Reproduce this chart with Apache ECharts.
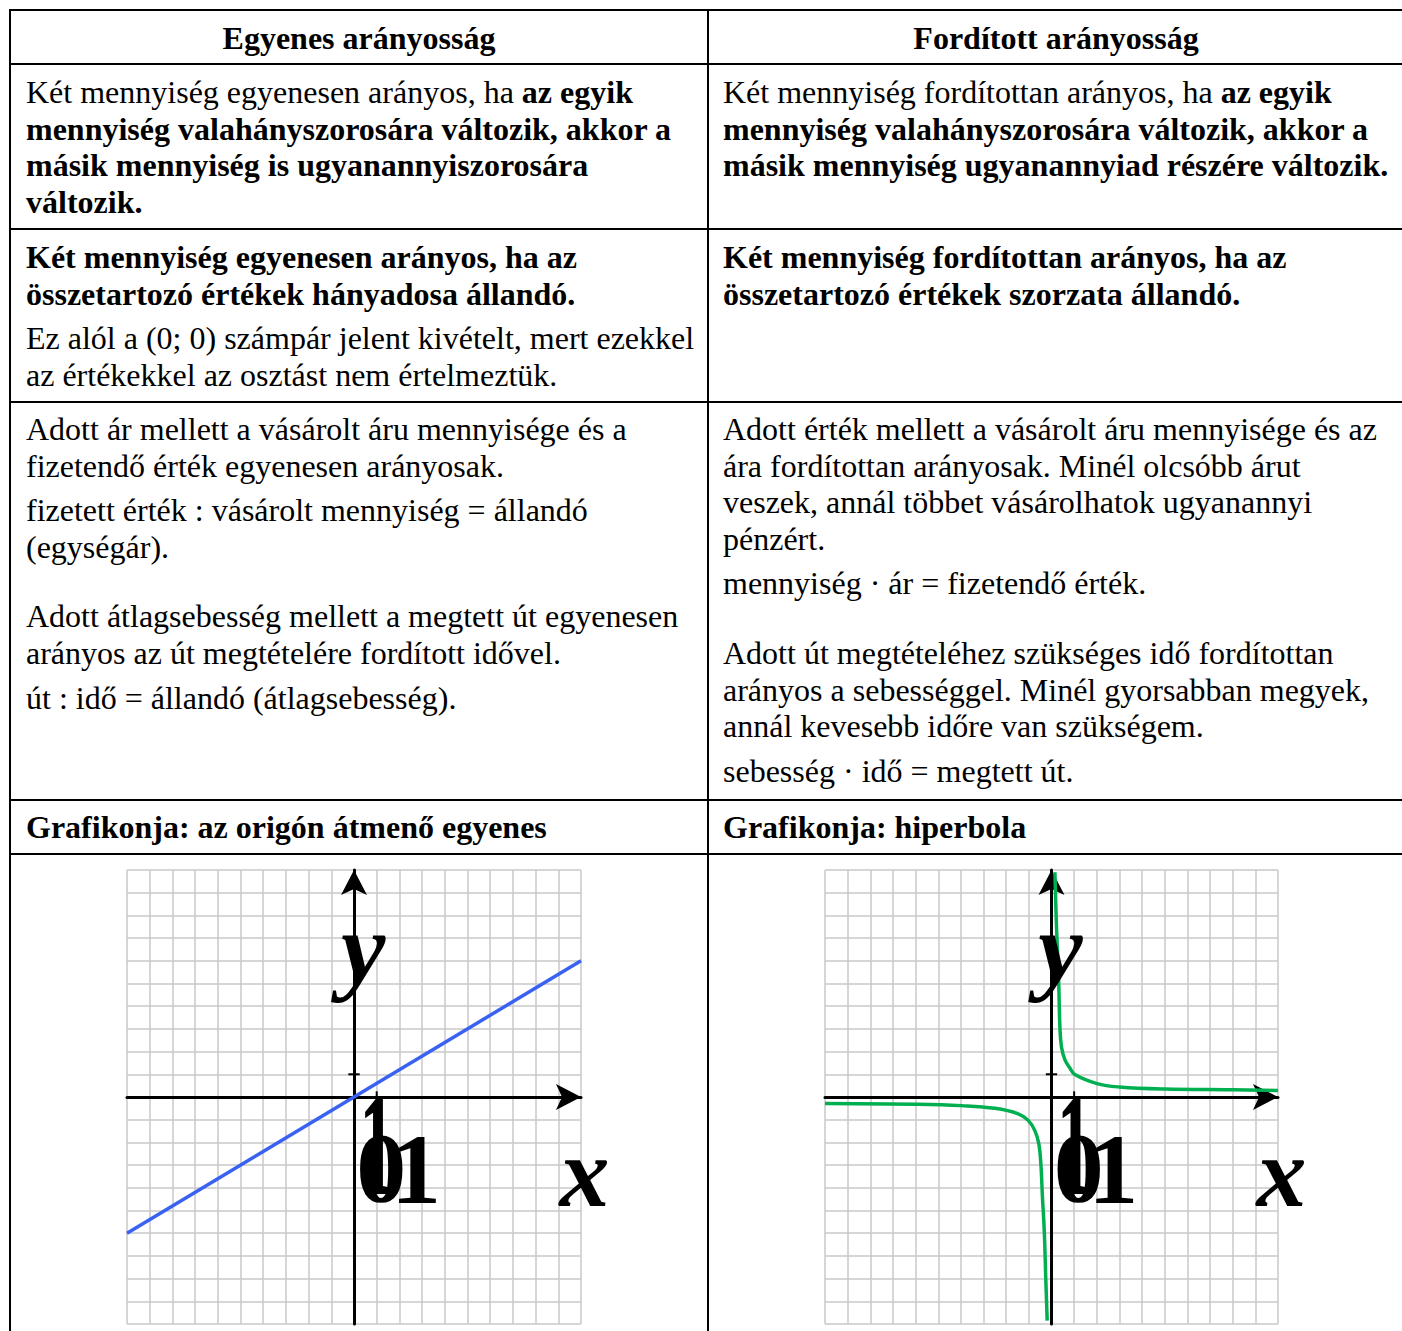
<!DOCTYPE html>
<html>
<head>
<meta charset="utf-8">
<script src="https://cdn.jsdelivr.net/npm/echarts@6/dist/echarts.min.js"></script>
<style>
  html, body { margin: 0; padding: 0; background: #fff; }
  body { width: 1402px; height: 1331px; position: relative; overflow: hidden;
         font-family: "Liberation Serif", "Times New Roman", serif; font-size: 32px; color: #000; }
  .hl { position: absolute; left: 9px; width: 1400px; height: 2px; background: #000; }
  .vl { position: absolute; top: 9px; width: 2px; height: 1330px; background: #000; }
  .cell { position: absolute; white-space: nowrap; }
  .cell p { margin: 0; line-height: 36.6px; }
  .cell p.gap { margin-top: 8px; }
  .cell p.big { margin-top: 33px; }
  .head { font-weight: bold; text-align: center; line-height: 36.6px; }
  b { font-weight: bold; }
  .chart { position: absolute; }
</style>
</head>
<body>
<div class="hl" style="top:9px"></div>
<div class="hl" style="top:63px"></div>
<div class="hl" style="top:228px"></div>
<div class="hl" style="top:401px"></div>
<div class="hl" style="top:799px"></div>
<div class="hl" style="top:853px"></div>
<div class="vl" style="left:9px"></div>
<div class="vl" style="left:707px"></div>

<div class="cell head" style="left:10px;width:698px;top:20px">Egyenes arányosság</div>
<div class="cell head" style="left:708px;width:696px;top:20px">Fordított arányosság</div>

<div class="cell" style="left:26px;top:74px">
  <p>Két mennyiség egyenesen arányos, ha <b>az egyik</b></p>
  <p><b>mennyiség valahányszorosára változik, akkor a</b></p>
  <p><b>másik mennyiség is ugyanannyiszorosára</b></p>
  <p><b>változik.</b></p>
</div>
<div class="cell" style="left:723px;top:74px">
  <p>Két mennyiség fordítottan arányos, ha <b>az egyik</b></p>
  <p><b>mennyiség valahányszorosára változik, akkor a</b></p>
  <p><b>másik mennyiség ugyanannyiad részére változik.</b></p>
</div>

<div class="cell" style="left:26px;top:239px">
  <p><b>Két mennyiség egyenesen arányos, ha az</b></p>
  <p><b>összetartozó értékek hányadosa állandó.</b></p>
  <p class="gap">Ez alól a (0; 0) számpár jelent kivételt, mert ezekkel</p>
  <p>az értékekkel az osztást nem értelmeztük.</p>
</div>
<div class="cell" style="left:723px;top:239px">
  <p><b>Két mennyiség fordítottan arányos, ha az</b></p>
  <p><b>összetartozó értékek szorzata állandó.</b></p>
</div>

<div class="cell" style="left:26px;top:411px">
  <p>Adott ár mellett a vásárolt áru mennyisége és a</p>
  <p>fizetendő érték egyenesen arányosak.</p>
  <p class="gap">fizetett érték : vásárolt mennyiség = állandó</p>
  <p>(egységár).</p>
  <p class="big">Adott átlagsebesség mellett a megtett út egyenesen</p>
  <p>arányos az út megtételére fordított idővel.</p>
  <p class="gap">út : idő = állandó (átlagsebesség).</p>
</div>
<div class="cell" style="left:723px;top:411px">
  <p>Adott érték mellett a vásárolt áru mennyisége és az</p>
  <p>ára fordítottan arányosak. Minél olcsóbb árut</p>
  <p>veszek, annál többet vásárolhatok ugyanannyi</p>
  <p>pénzért.</p>
  <p class="gap">mennyiség · ár = fizetendő érték.</p>
  <p class="big">Adott út megtételéhez szükséges idő fordítottan</p>
  <p>arányos a sebességgel. Minél gyorsabban megyek,</p>
  <p>annál kevesebb időre van szükségem.</p>
  <p class="gap">sebesség · idő = megtett út.</p>
</div>

<div class="cell" style="left:26px;top:809px"><p><b>Grafikonja: az origón átmenő egyenes</b></p></div>
<div class="cell" style="left:723px;top:809px"><p><b>Grafikonja: hiperbola</b></p></div>

<div id="c1" class="chart" style="left:11px;top:855px;width:696px;height:476px"></div>
<div id="c2" class="chart" style="left:709px;top:855px;width:693px;height:476px"></div>

<script>
// egyenes: y = 0.6x
const linePoints = [[-10, -6], [10, 6]];
// hiperbola ágai (leolvasva)
const hypRight = [[0.15, 9.9], [0.22, 7.5], [0.28, 6.06], [0.32, 5.0], [0.37, 3.1], [0.44, 2.2],
  [0.59, 1.65], [0.81, 1.28], [1.03, 0.99], [2.01, 0.59], [3, 0.44], [5, 0.35], [8, 0.32], [10, 0.29]];
const hypLeft = [[-10, -0.29], [-5.9, -0.32], [-3.97, -0.38], [-2.5, -0.5], [-1.47, -0.74],
  [-1.03, -1.03], [-0.74, -1.47], [-0.56, -2.06], [-0.47, -2.94], [-0.4, -4.41], [-0.32, -5.88],
  [-0.25, -8.09], [-0.19, -9.85]];
// egység jelölések
const tickX = [[1, -0.25], [1, 0.25]];
const tickY = [[-0.25, 1], [0.25, 1]];
// feliratok
const labelTexts = ["y", "x", "0", "1", "1"];
const labelCoords = [[0.4, 6.2], [10.15, -3.66], [1.2, -3.45], [2.73, -3.53], [1.01, -2.6]];

const arrowPath = "path://M13,0L26,25L13,19L0,25Z";

function axisCfg(endOffset) {
  return {
    type: "value",
    min: -10,
    max: 10,
    interval: 1,
    axisLabel: { show: false },
    axisTick: { show: false },
    axisLine: {
      show: true,
      onZero: true,
      symbol: ["none", arrowPath],
      symbolSize: [26, 25],
      symbolOffset: [0, endOffset],
      lineStyle: { color: "#000", width: 3 },
    },
    splitLine: { show: true, lineStyle: { color: "#c8c8c8", width: 1.5 } },
  };
}

function tickSeries(data) {
  return {
    type: "line",
    data: data,
    symbol: "none",
    silent: true,
    lineStyle: { color: "#000", width: 2 },
    z: 3,
  };
}

function buildChart(el, width, curves) {
  const chart = echarts.init(el, null, { renderer: "canvas" });
  chart.setOption({
    animation: false,
    grid: { left: 116, top: 15, width: width, height: 454 },
    xAxis: axisCfg(-12.5),
    yAxis: axisCfg(-12.5),
    series: curves.concat([tickSeries(tickX), tickSeries(tickY)]),
  });
  const font = { fontFamily: "Liberation Serif", fontWeight: "bold", fontSize: 100 };
  const graphic = labelTexts.map((t, i) => {
    const p = chart.convertToPixel({ gridIndex: 0 }, labelCoords[i]);
    const tall = i === 4;
    return {
      type: "text",
      x: p[0],
      y: p[1],
      scaleX: tall ? 0.7 : 1,
      scaleY: tall ? 1.48 : 1,
      z: 10,
      style: Object.assign({}, font, {
        text: t,
        fontStyle: i < 2 ? "italic" : "normal",
        fill: "#000",
        align: "center",
        verticalAlign: "middle",
      }),
    };
  });
  chart.setOption({ graphic: graphic });
  return chart;
}

buildChart(document.getElementById("c1"), 454, [
  {
    type: "line",
    data: linePoints,
    symbol: "none",
    lineStyle: { color: "#3a62f2", width: 3.5 },
    z: 4,
  },
]);

const greenStyle = { color: "#00b050", width: 3.5 };
buildChart(document.getElementById("c2"), 453, [
  { type: "line", data: hypRight, symbol: "none", smooth: 0.4, lineStyle: greenStyle, z: 4 },
  { type: "line", data: hypLeft, symbol: "none", smooth: 0.4, lineStyle: greenStyle, z: 4 },
]);
</script>
</body>
</html>
